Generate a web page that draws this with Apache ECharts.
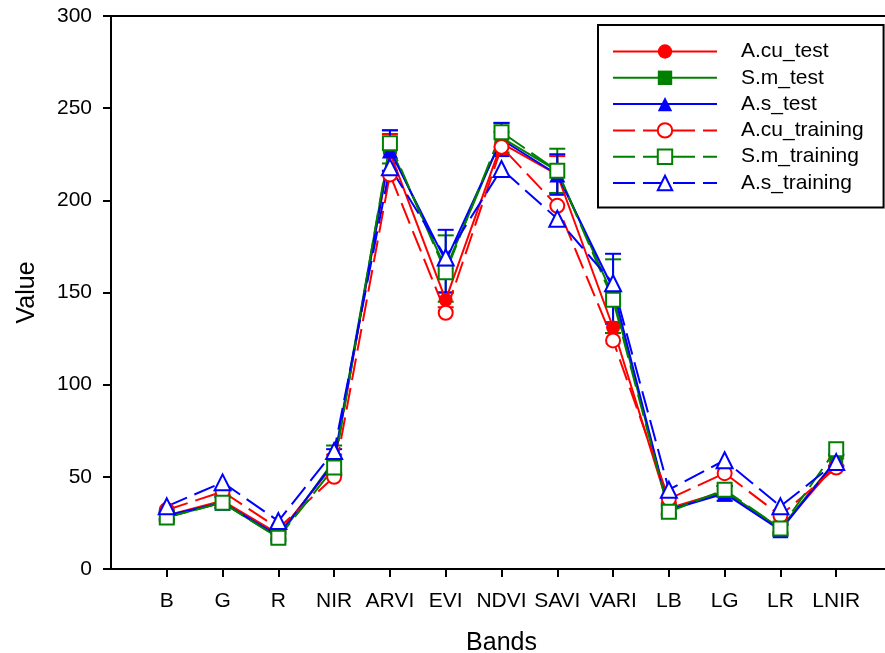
<!DOCTYPE html>
<html>
<head>
<meta charset="utf-8">
<script src="https://cdn.jsdelivr.net/npm/echarts@6/dist/echarts.min.js"></script>
<style>
    html, body { margin: 0; padding: 0; background: #fff; }
    #main { width: 885px; height: 653px; }
</style>
</head>
<body>
<div id="main"></div>
<script>
// 波段
var bands = ['B', 'G', 'R', 'NIR', 'ARVI', 'EVI', 'NDVI', 'SAVI', 'VARI', 'LB', 'LG', 'LR', 'LNIR'];
var yTicks = [0, 50, 100, 150, 200, 250, 300];

// 测试集
var acuTest = [29, 37, 19, 57, 226, 146, 231, 214, 131, 33, 42, 22, 57];
var smTest = [28, 36, 17, 59, 229, 163, 234, 216, 148, 32, 42, 22, 59];
var asTest = [29, 36, 18, 58, 227, 167, 233, 214, 152, 32, 41, 21, 59];
// 误差
var acuTestErr = [2, 3, 2, 5, 10, 4, 6, 10, 3, 3, 3, 3, 3];
var smTestErr = [2, 3, 2, 8, 9, 18, 8, 12, 20, 2, 3, 2, 3];
var asTestErr = [2, 3, 2, 7, 11, 17, 9, 11, 19, 3, 4, 3, 3];

// 训练集
var acuTraining = [32, 42, 22, 50, 214, 139, 229, 197, 124, 38, 52, 29, 55];
var smTraining = [28, 36, 17, 55, 231, 161, 237, 216, 146, 31, 43, 22, 65];
var asTraining = [34, 47, 26, 64, 218, 169, 217, 190, 155, 43, 59, 34, 58];

var RED = '#ff0000', GREEN = '#008000', BLUE = '#0000ff';
var FONT = 'Liberation Sans';

function toPoints(arr) {
    return arr.map(function (v, i) { return [i + 1, v]; });
}

function lineSeries(name, arr, color, symbol, hollow) {
    return {
        name: name,
        type: 'line',
        data: toPoints(arr),
        symbol: symbol,
        symbolSize: symbol === 'triangle' ? 16 : 14,
        showAllSymbol: true,
        z: 3,
        lineStyle: {
            color: color,
            width: 2,
            type: hollow ? [22, 8] : 'solid'
        },
        itemStyle: {
            color: hollow ? '#fff' : color,
            borderColor: color,
            borderWidth: hollow ? 2 : 0
        },
        emphasis: { disabled: true }
    };
}

function errSeries(arr, err, color) {
    var d = arr.map(function (v, i) { return [i + 1, v, err[i]]; });
    return {
        type: 'custom',
        z: 2,
        silent: true,
        data: d,
        renderItem: function (params, api) {
            var x = api.value(0), y = api.value(1), e = api.value(2);
            var top = api.coord([x, y + e]);
            var bot = api.coord([x, y - e]);
            var w = 8;
            var st = { stroke: color, lineWidth: 2 };
            return {
                type: 'group',
                children: [
                    { type: 'line', shape: { x1: top[0], y1: top[1], x2: bot[0], y2: bot[1] }, style: st },
                    { type: 'line', shape: { x1: top[0] - w, y1: top[1], x2: top[0] + w, y2: top[1] }, style: st },
                    { type: 'line', shape: { x1: bot[0] - w, y1: bot[1], x2: bot[0] + w, y2: bot[1] }, style: st }
                ]
            };
        }
    };
}

var chart = echarts.init(document.getElementById('main'));
var option = {
    animation: false,
    textStyle: { fontFamily: FONT },
    grid: {
        left: 111,
        top: 16,
        width: 781,
        height: 553,
        show: true,
        borderColor: '#000',
        borderWidth: 2,
        containLabel: false,
        outerBoundsMode: 'none'
    },
    legend: {
        orient: 'vertical',
        left: 598,
        top: 25,
        padding: [16, 20, 14, 14],
        backgroundColor: '#fff',
        borderColor: '#000',
        borderWidth: 2,
        borderRadius: 0,
        itemWidth: 104,
        itemHeight: 18,
        itemGap: 5.3,
        textStyle: { fontSize: 21, lineHeight: 21, color: '#000', fontFamily: FONT, padding: [0, 0, 0, 19] },
        data: ['A.cu_test', 'S.m_test', 'A.s_test', 'A.cu_training', 'S.m_training', 'A.s_training']
    },
    xAxis: {
        type: 'value',
        min: 0,
        max: 14,
        interval: 1,
        name: 'Bands',
        nameLocation: 'middle',
        nameGap: 62,
        nameTextStyle: { fontSize: 25, color: '#000', fontFamily: FONT },
        axisLine: { lineStyle: { color: '#000', width: 2 } },
        axisTick: {
            show: true, length: 8, inside: false,
            lineStyle: { color: '#000', width: 2 },
            customValues: bands.map(function (b, i) { return i + 1; })
        },
        axisLabel: {
            fontSize: 21, color: '#000', margin: 22, fontFamily: FONT,
            customValues: bands.map(function (b, i) { return i + 1; }),
            formatter: function (v) { return bands[v - 1] || ''; }
        },
        splitLine: { show: false }
    },
    yAxis: {
        type: 'value',
        min: 0,
        max: 300,
        interval: 50,
        name: 'Value',
        nameLocation: 'middle',
        nameGap: 71,
        nameTextStyle: { fontSize: 25, color: '#000', fontFamily: FONT },
        axisLine: { show: true, lineStyle: { color: '#000', width: 2 } },
        axisTick: { show: true, length: 8, lineStyle: { color: '#000', width: 2 } },
        axisLabel: {
            fontSize: 21, color: '#000', margin: 19, fontFamily: FONT,
            formatter: function (v) { return yTicks.indexOf(v) >= 0 ? String(v) : ''; }
        },
        splitLine: { show: false }
    },
    series: [
        errSeries(acuTest, acuTestErr, RED),
        errSeries(smTest, smTestErr, GREEN),
        errSeries(asTest, asTestErr, BLUE),
        lineSeries('A.cu_test', acuTest, RED, 'circle', false),
        lineSeries('S.m_test', smTest, GREEN, 'rect', false),
        lineSeries('A.s_test', asTest, BLUE, 'triangle', false),
        lineSeries('A.cu_training', acuTraining, RED, 'circle', true),
        lineSeries('S.m_training', smTraining, GREEN, 'rect', true),
        lineSeries('A.s_training', asTraining, BLUE, 'triangle', true)
    ]
};
chart.setOption(option);
</script>
</body>
</html>
